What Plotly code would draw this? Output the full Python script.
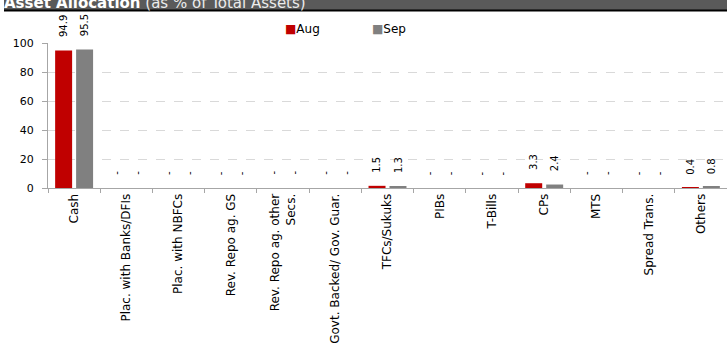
import plotly.graph_objects as go

categories = ["Cash", "Plac. with Banks/DFIs", "Plac. with NBFCs", "Rev. Repo ag. GS",
              "Rev. Repo ag. other<br>Secs.", "Govt. Backed/ Gov. Guar.", "TFCs/Sukuks",
              "PIBs", "T-Bills", "CPs", "MTS", "Spread Trans.", "Others"]
aug = [94.9, 0, 0, 0, 0, 0, 1.5, 0, 0, 3.3, 0, 0, 0.4]
sep = [95.5, 0, 0, 0, 0, 0, 1.3, 0, 0, 2.4, 0, 0, 0.8]
series = [("Aug", aug, "#C00000"), ("Sep", sep, "#808080")]
yticks = [0, 20, 40, 60, 80, 100]

W, H = 727, 350
ML, MR, MT, MB = 48, 0, 43, 162
PW, PH = W - ML - MR, H - MT - MB
FONT = "DejaVu Sans"

BARGAP, GROUPGAP = 0.197, 0.19
cat_px = PW / len(categories)
slot_px = cat_px * (1 - BARGAP) / len(series)

fig = go.Figure()
annotations = []
for i, (name, vals, col) in enumerate(series):
    fig.add_trace(go.Bar(x=categories, y=vals, name=name, marker_color=col,
                         marker_line_width=0, showlegend=False, cliponaxis=False))
    shift = (i - (len(series) - 1) / 2) * slot_px
    for c, v in zip(categories, vals):
        if v == 0:
            annotations.append(dict(x=c, y=v, xref="x", yref="y", text="-",
                                    showarrow=False, textangle=-90,
                                    xanchor="center", yanchor="middle",
                                    xshift=shift, yshift=15,
                                    font=dict(family=FONT, size=10, color="#000000")))
        else:
            annotations.append(dict(x=c, y=v, xref="x", yref="y", text=f"{v:.1f}",
                                    showarrow=False, textangle=-90,
                                    xanchor="center", yanchor="bottom",
                                    xshift=shift, yshift=11,
                                    font=dict(family=FONT, size=10, color="#000000")))

# Legend (drawn as text entries at the top)
leg_x = [283, 370]
for (name, vals, col), lx in zip(series, leg_x):
    annotations.append(dict(xref="paper", yref="paper", x=(lx - ML) / PW, xanchor="left",
                            y=1 + 14 / PH, yanchor="middle", showarrow=False,
                            text=f"<span style='color:{col}'>■</span>{name}",
                            font=dict(family=FONT, size=12, color="#000000")))

annotations.append(dict(xref="paper", yref="paper", x=(2 - ML) / PW, xanchor="left",
                        y=1 + (MT - 3) / PH, yanchor="middle", showarrow=False,
                        text="<b>Asset Allocation</b> <span style='color:#ececec'>(as % of Total Assets)</span>",
                        font=dict(family=FONT, size=15, color="#ffffff")))

fig.update_layout(
    width=W, height=H,
    margin=dict(l=ML, r=MR, t=MT, b=MB, pad=0),
    paper_bgcolor="white", plot_bgcolor="white",
    barmode="group", bargap=BARGAP, bargroupgap=GROUPGAP,
    font=dict(family=FONT, size=11, color="#000000"),
    showlegend=False,
    xaxis=dict(type="category", tickangle=-90, showgrid=False,
               showline=True, linecolor="#a6a6a6", linewidth=1,
               ticks="outside", tickson="boundaries", ticklen=4, tickcolor="#a6a6a6",
               tickfont=dict(family=FONT, size=12, color="#000000"),
               range=[-0.5, len(categories) - 0.5]),
    yaxis=dict(range=[0, 100], tickvals=yticks, showgrid=True,
               gridcolor="#d9d9d9", griddash="dash", gridwidth=1,
               showline=True, linecolor="#a6a6a6", linewidth=1,
               ticks="outside", ticklen=5, tickcolor="#a6a6a6",
               ticklabelstandoff=6,
               tickfont=dict(family=FONT, size=11, color="#000000"),
               zeroline=False),
    shapes=[
        dict(type="rect", xref="paper", yref="paper",
             x0=(4 - ML) / PW, x1=1.0,
             y0=1 + (MT - 10) / PH, y1=1 + (MT + 2) / PH,
             fillcolor="#5a5a5a", line=dict(width=0), layer="above"),
        dict(type="line", xref="paper", yref="paper",
             x0=(4 - ML) / PW, x1=1.0,
             y0=1 + (MT - 10.5) / PH, y1=1 + (MT - 10.5) / PH,
             line=dict(color="#000000", width=2), layer="above"),
    ],
    annotations=annotations,
)

fig.write_html("out.html")
